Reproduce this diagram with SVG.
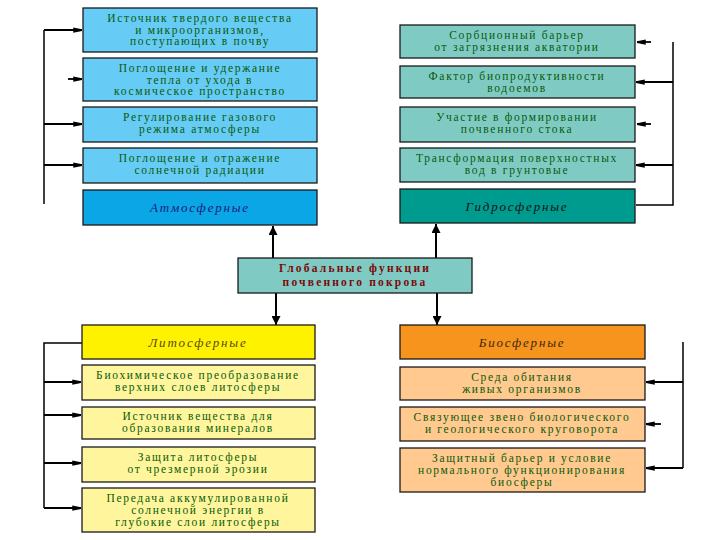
<svg xmlns="http://www.w3.org/2000/svg" width="720" height="540" viewBox="0 0 720 540">
<defs>
<marker id="ah" viewBox="0 0 10 8" refX="10" refY="4" markerWidth="10" markerHeight="7" orient="auto" markerUnits="userSpaceOnUse">
<path d="M0,1 L10,3 L10,5 L0,7 z" fill="#000"/>
</marker>
<marker id="ahb" viewBox="0 0 10 10" refX="10" refY="5" markerWidth="9" markerHeight="9" orient="auto" markerUnits="userSpaceOnUse">
<path d="M0,0 L10,5 L0,10 z" fill="#000"/>
</marker>
</defs>
<style>
rect{stroke:#1a1a1a;stroke-width:1.3}
.t{font-family:"Liberation Serif","DejaVu Serif",serif;font-size:11.5px;fill:#0a5a0a;text-anchor:middle;letter-spacing:1.7px}
.h{font-family:"Liberation Serif","DejaVu Serif",serif;font-size:13px;font-style:italic;text-anchor:middle;letter-spacing:1.8px}
.c{font-family:"Liberation Serif","DejaVu Serif",serif;font-size:11.5px;font-weight:bold;fill:#7a0a0a;text-anchor:middle;letter-spacing:2.2px}
.ln{stroke:#000;stroke-width:1.5;fill:none}
.a{stroke:#000;stroke-width:1.8;fill:none;marker-end:url(#ah)}
.ab{stroke:#000;stroke-width:2;fill:none;marker-end:url(#ahb)}
.atm{fill:#66ccf5}
.hyd{fill:#7fcbc4}
.lit{fill:#fff59d}
.bio{fill:#ffc98f}
</style>
<rect x="0" y="0" width="720" height="540" fill="#fff" style="stroke:none"/>

<g id="connectors">
<path class="ln" d="M44,30 V204"/>
<line class="a" x1="44" y1="30" x2="82" y2="30"/>
<line class="a" x1="68" y1="79" x2="82" y2="79"/>
<line class="a" x1="44" y1="124" x2="82" y2="124"/>
<line class="a" x1="44" y1="165" x2="82" y2="165"/>
<path class="ln" d="M673,42 V205 H636"/>
<line class="a" x1="651" y1="42" x2="637" y2="42"/>
<line class="a" x1="673" y1="82" x2="636" y2="82"/>
<line class="a" x1="651" y1="124" x2="637" y2="124"/>
<line class="a" x1="673" y1="165" x2="636" y2="165"/>
<line class="ab" x1="273" y1="258" x2="273" y2="226"/>
<line class="ab" x1="436" y1="258" x2="436" y2="224"/>
<line class="ab" x1="276" y1="293" x2="276" y2="325"/>
<line class="ab" x1="437" y1="293" x2="437" y2="325"/>
<path class="ln" d="M82,343 H44 V508"/>
<line class="a" x1="44" y1="382" x2="81" y2="382"/>
<line class="a" x1="44" y1="415" x2="81" y2="415"/>
<line class="a" x1="44" y1="463" x2="81" y2="463"/>
<line class="a" x1="44" y1="508" x2="81" y2="508"/>
<path class="ln" d="M683,342 V468"/>
<line class="a" x1="683" y1="382" x2="646" y2="382"/>
<line class="a" x1="661" y1="424" x2="646" y2="424"/>
<line class="a" x1="683" y1="468" x2="646" y2="468"/>
</g>

<g id="atm1"><rect class="atm" x="83" y="8" width="234" height="44"/>
<text class="t" x="200" y="22">Источник твердого вещества</text>
<text class="t" x="200" y="33.5">и микроорганизмов,</text>
<text class="t" x="200" y="45">поступающих в почву</text></g>
<g id="atm2"><rect class="atm" x="83" y="58" width="234" height="43"/>
<text class="t" x="200" y="72">Поглощение и удержание</text>
<text class="t" x="200" y="83.5">тепла от ухода в</text>
<text class="t" x="200" y="95">космическое пространство</text></g>
<g id="atm3"><rect class="atm" x="83" y="107" width="234" height="35"/>
<text class="t" x="200" y="121">Регулирование газового</text>
<text class="t" x="200" y="133">режима атмосферы</text></g>
<g id="atm4"><rect class="atm" x="83" y="148" width="234" height="35"/>
<text class="t" x="200" y="162">Поглощение и отражение</text>
<text class="t" x="200" y="174">солнечной радиации</text></g>
<g id="atm"><rect x="83" y="190" width="234" height="35" fill="#0aa6e6"/>
<text class="h" x="200" y="212" fill="#1a1a7a">Атмосферные</text></g>

<g id="hyd1"><rect class="hyd" x="400" y="25" width="235" height="33"/>
<text class="t" x="517" y="39">Сорбционный барьер</text>
<text class="t" x="517" y="51">от загрязнения акватории</text></g>
<g id="hyd2"><rect class="hyd" x="400" y="66" width="235" height="32"/>
<text class="t" x="517" y="80">Фактор биопродуктивности</text>
<text class="t" x="517" y="92">водоемов</text></g>
<g id="hyd3"><rect class="hyd" x="400" y="107" width="235" height="35"/>
<text class="t" x="517" y="121">Участие в формировании</text>
<text class="t" x="517" y="133">почвенного стока</text></g>
<g id="hyd4"><rect class="hyd" x="400" y="148" width="235" height="34"/>
<text class="t" x="517" y="162">Трансформация поверхностных</text>
<text class="t" x="517" y="174">вод в грунтовые</text></g>
<g id="hyd"><rect x="400" y="189" width="235" height="34" fill="#009b8f"/>
<text class="h" x="517" y="211" fill="#111">Гидросферные</text></g>

<g id="center"><rect x="238" y="258" width="234" height="35" fill="#7fcbc4"/>
<text class="c" x="355" y="272">Глобальные функции</text>
<text class="c" x="355" y="286">почвенного покрова</text></g>

<g id="lit"><rect x="82" y="325" width="233" height="34" fill="#fff200"/>
<text class="h" x="198" y="347" fill="#5a4a10">Литосферные</text></g>
<g id="lit1"><rect class="lit" x="82" y="365" width="233" height="35"/>
<text class="t" x="198" y="379">Биохимическое преобразование</text>
<text class="t" x="198" y="391">верхних слоев литосферы</text></g>
<g id="lit2"><rect class="lit" x="82" y="407" width="233" height="32"/>
<text class="t" x="198" y="420">Источник вещества для</text>
<text class="t" x="198" y="432">образования минералов</text></g>
<g id="lit3"><rect class="lit" x="82" y="447" width="233" height="35"/>
<text class="t" x="198" y="461">Защита литосферы</text>
<text class="t" x="198" y="473">от чрезмерной эрозии</text></g>
<g id="lit4"><rect class="lit" x="82" y="488" width="233" height="44"/>
<text class="t" x="198" y="502">Передача аккумулированной</text>
<text class="t" x="198" y="514">солнечной энергии в</text>
<text class="t" x="198" y="526">глубокие слои литосферы</text></g>

<g id="bio"><rect x="400" y="325" width="245" height="34" fill="#f7941d"/>
<text class="h" x="522" y="347" fill="#3a2a10">Биосферные</text></g>
<g id="bio1"><rect class="bio" x="400" y="367" width="245" height="33"/>
<text class="t" x="522" y="381">Среда обитания</text>
<text class="t" x="522" y="393">живых организмов</text></g>
<g id="bio2"><rect class="bio" x="400" y="407" width="245" height="34"/>
<text class="t" x="522" y="421">Связующее звено биологического</text>
<text class="t" x="522" y="433">и геологического круговорота</text></g>
<g id="bio3"><rect class="bio" x="400" y="448" width="245" height="44"/>
<text class="t" x="522" y="462">Защитный барьер и условие</text>
<text class="t" x="522" y="474">нормального функционирования</text>
<text class="t" x="522" y="486">биосферы</text></g>
</svg>
